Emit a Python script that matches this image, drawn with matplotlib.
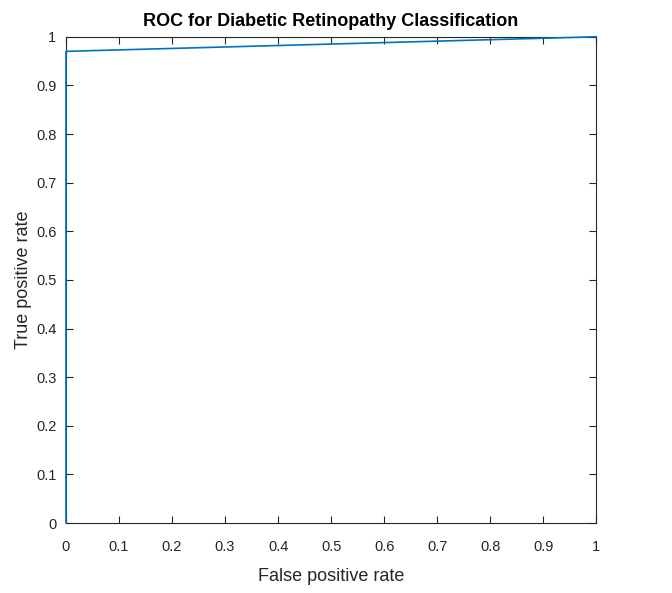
import matplotlib
matplotlib.use("Agg")
from matplotlib import pyplot as plt

# ROC curve points (false positive rate, true positive rate)
fpr = [0.0, 0.0, 0.0, 1.0]
tpr = [0.0, 0.5, 0.97, 1.0]

ticks = [0, 0.1, 0.2, 0.3, 0.4, 0.5, 0.6, 0.7, 0.8, 0.9, 1]
tick_labels = ["0", "0.1", "0.2", "0.3", "0.4", "0.5", "0.6", "0.7", "0.8", "0.9", "1"]

plt.rcParams["font.family"] = ["Liberation Sans", "DejaVu Sans"]
axis_color = "#262626"

fig = plt.figure(figsize=(6.72, 5.93), dpi=100)
ax = fig.add_axes([0.0982, 0.118, 0.789, 0.820])
ax.plot(fpr, tpr, color="#0072BD", linewidth=1.2, zorder=5, clip_on=False)

ax.set_xlim(0, 1)
ax.set_ylim(0, 1)
ax.set_xticks(ticks)
ax.set_xticklabels(tick_labels)
ax.set_yticks(ticks)
ax.set_yticklabels(tick_labels)
ax.tick_params(direction="in", top=True, right=True, length=5, width=0.8,
               colors=axis_color, labelsize=10.5)
ax.tick_params(axis="x", pad=12)
ax.tick_params(axis="y", pad=7)
for spine in ax.spines.values():
    spine.set_color(axis_color)
    spine.set_linewidth(0.8)

ax.set_xlabel("False positive rate", fontsize=13, color=axis_color, labelpad=10)
ax.set_ylabel("True positive rate", fontsize=13, color=axis_color, labelpad=3)
ax.set_title("ROC for Diabetic Retinopathy Classification", fontsize=13,
             fontweight="bold", color="black", pad=8)

fig.savefig("out.png", dpi=100)
